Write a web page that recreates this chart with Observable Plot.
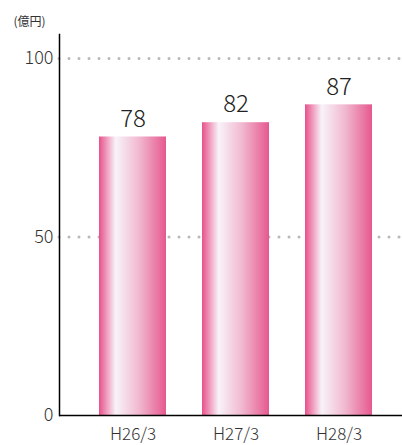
<!DOCTYPE html>
<html><head><meta charset="utf-8">
<script src="https://cdn.jsdelivr.net/npm/d3@7"></script>
<script src="https://cdn.jsdelivr.net/npm/@observablehq/plot@0.6"></script>
<style>
body{margin:0;background:#fff;}
svg{font-family:"Noto Sans CJK JP","Noto Sans",sans-serif;}
</style>
</head><body><div id="chart"></div>
<script>
const categories = ["H26/3","H27/3","H28/3"];
const values = [78, 82, 87];
const yTicks = [0, 50, 100];
const gridTicks = [50, 100];
const unitLabel = "(億円)";

const data = categories.map((c,i)=>({cat:c, v:values[i]}));

const gradient = () => {
  const svg = d3.create("svg:defs");
  const g = svg.append("linearGradient").attr("id","barGrad").attr("x1","0").attr("x2","1").attr("y1","0").attr("y2","0");
  g.append("stop").attr("offset","0%").attr("stop-color","#e8508a");
  g.append("stop").attr("offset","25%").attr("stop-color","#f8f3f9");
  g.append("stop").attr("offset","60%").attr("stop-color","#f1b8cf");
  g.append("stop").attr("offset","100%").attr("stop-color","#e6588f");
  return svg.node();
};

const chart = Plot.plot({
  width: 402,
  height: 445,
  marginLeft: 59,
  marginRight: 0,
  marginTop: 34,
  marginBottom: 30,
  x: {domain: categories, range: [59, 411], paddingInner: 0.353, paddingOuter: 0.377, label: null},
  y: {domain: [0, 106.7], label: null},
  marks: [
    gradient,
    Plot.ruleY(gridTicks, {stroke: "#b8b8b8", strokeWidth: 3, strokeDasharray: "0 10", strokeLinecap: "round"}),
    Plot.barY(data, {x: "cat", y: "v", fill: "url(#barGrad)"}),
    Plot.text(data, {x: "cat", y: "v", text: d => String(d.v), dy: -18, fontSize: 24, fontWeight: 300, fill: "#222"}),
    Plot.frame({anchor: "left", stroke: "#000", strokeWidth: 1.5}),
    Plot.ruleY([0], {stroke: "#000", strokeWidth: 1.5}),
    Plot.axisY(yTicks, {tickSize: 0, tickPadding: 6, fontSize: 18, fontWeight: 300, fill: "#333", label: null}),
    Plot.axisX({tickSize: 0, tickPadding: 12, fontSize: 17, fontWeight: 300, fill: "#333", label: null}),
    Plot.text([unitLabel], {frameAnchor: "top-left", dx: -46, dy: -17, fontSize: 12, fill: "#333", textAnchor: "start"})
  ]
});
document.getElementById("chart").appendChild(chart);
</script>
</body></html>
